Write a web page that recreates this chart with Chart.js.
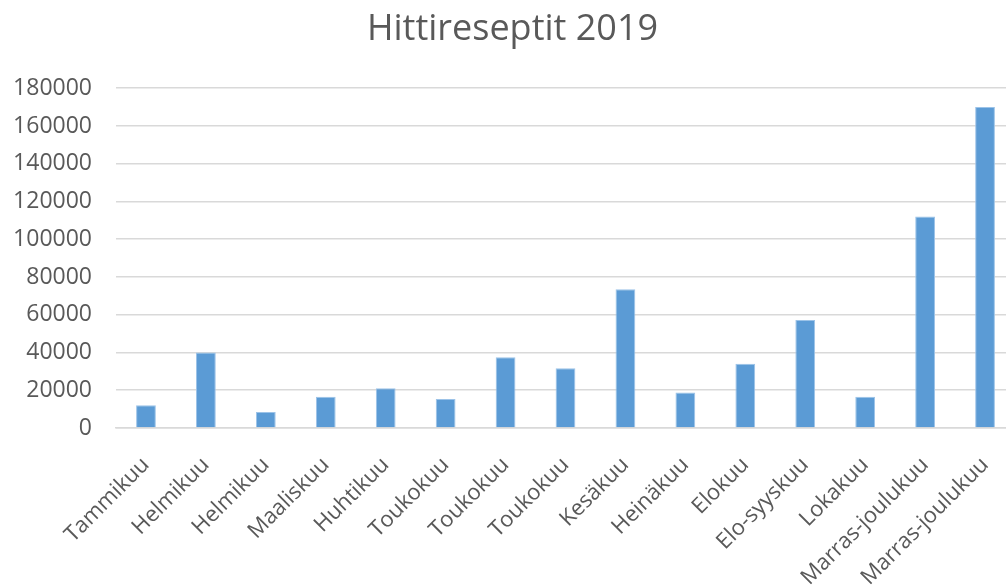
<!DOCTYPE html>
<html>
<head>
<meta charset="utf-8">
<script src="https://cdn.jsdelivr.net/npm/chart.js@4"></script>
<style>
  body { margin: 0; overflow: hidden; background: #fff; }
  #wrap { width: 1040px; height: 588px; }
</style>
</head>
<body>
<div id="wrap"><canvas id="chart_hitit"></canvas></div>
<script>
const months = ["Tammikuu", "Helmikuu", "Helmikuu", "Maaliskuu", "Huhtikuu", "Toukokuu", "Toukokuu",
    "Toukokuu", "Kesäkuu", "Heinäkuu", "Elokuu", "Elo-syyskuu", "Lokakuu", "Marras-joulukuu", "Marras-joulukuu"];
const hits = [12000, 40000, 8500, 16500, 21000, 15300, 37500, 31700, 73500, 18800, 34000, 57200, 16600, 112000, 170000];

const font = "'Open Sans', 'DejaVu Sans', sans-serif";

const chart_hitit = new Chart("chart_hitit", {
    type: "bar",
    data: {
        labels: months,
        datasets: [{
            data: hits,
            backgroundColor: "#5b9bd5",
            borderColor: "#9cc3e8",
            borderWidth: 1,
            categoryPercentage: 1,
            barPercentage: 0.33
        }]
    },
    options: {
        responsive: true,
        maintainAspectRatio: false,
        animation: false,
        layout: {padding: {left: 10, right: 25, top: 0, bottom: 0}},
        plugins: {
            legend: {display: false},
            tooltip: {enabled: false},
            title: {
                display: true,
                text: "Hittireseptit 2019",
                color: "#595959",
                font: {family: font, size: 36, weight: "normal"},
                padding: {top: 8, bottom: 37}
            }
        },
        scales: {
            y: {
                min: 0,
                max: 180000,
                afterFit: (scale) => { scale.width = 106; },
                ticks: {
                    stepSize: 20000,
                    color: "#595959",
                    font: {family: font, size: 23},
                    padding: 24,
                    callback: (v) => String(v)
                },
                grid: {color: "#d9d9d9", lineWidth: 1.5, drawTicks: false},
                border: {display: false}
            },
            x: {
                afterFit: (scale) => { scale.height = 160; },
                ticks: {color: "#595959", font: {family: font, size: 22}, minRotation: 45, maxRotation: 45, padding: 24},
                grid: {display: false, drawTicks: false},
                border: {color: "#d9d9d9", width: 1.5}
            }
        }
    }
});
</script>
</body>
</html>
